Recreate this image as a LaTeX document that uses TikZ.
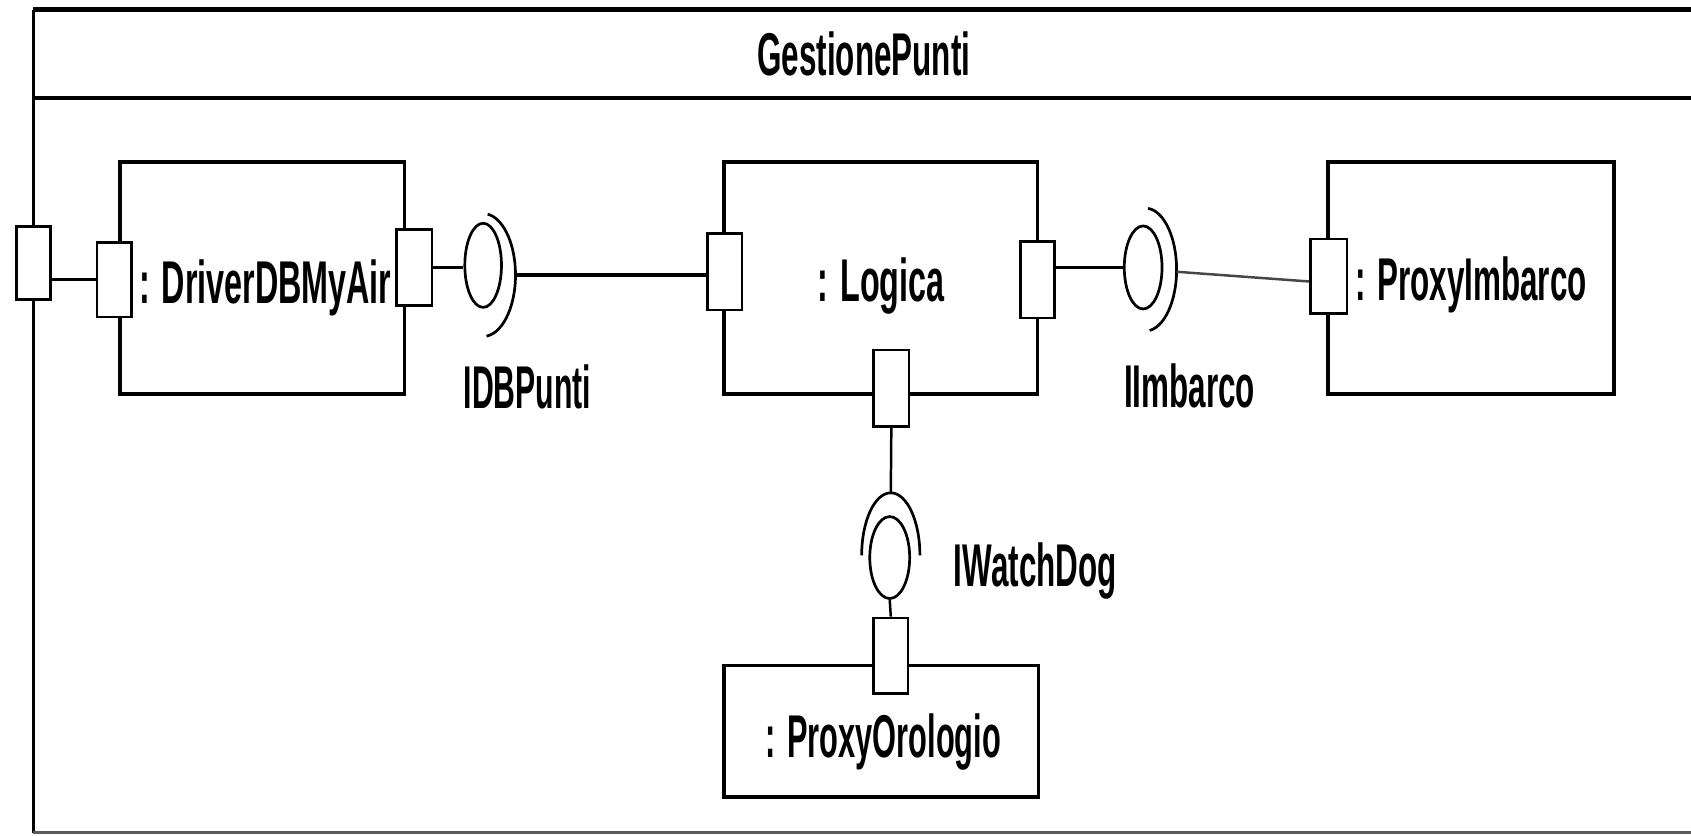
\documentclass[tikz,border=0pt]{standalone}
\usepackage{fontspec}
\setmainfont{Liberation Sans}
\usetikzlibrary{shapes.geometric}
\newcommand\nar[2][0.52]{\scalebox{#1}[1]{#2}}
\begin{document}
\begin{tikzpicture}[x=1pt,y=-1pt,
  comp/.style={draw, line width=3.5pt, inner sep=0pt},
  port/.style={draw, fill=white, line width=2.5pt, inner sep=0pt, minimum width=32pt, minimum height=70pt},
  ball/.style={draw, ellipse, line width=2.5pt, inner sep=0pt},
  socket/.style={line width=2.5pt},
  conn/.style={line width=3pt},
  thinconn/.style={line width=2.3pt},
  lbl/.style={inner sep=0pt, font=\fontsize{56}{60}\selectfont\bfseries}]
\clip (0,0) rectangle (1568,775);
\fill[white] (0,0) rectangle (1568,775);
% frame
\draw[line width=4.5pt] (1580,9) -- (31,9);
\draw[line width=4pt] (31,91) -- (1580,91);
\draw[line width=3pt] (31,9) -- (31,772);
\draw[line width=2pt, gray!70!black] (31,772) -- (1580,772);
\node[lbl, anchor=base] (title) at (801,70) {\nar{GestionePunti}};
% components
\node[comp, minimum width=264pt, minimum height=215pt] (driver) at (243,257.5) {};
\node[comp, minimum width=291pt, minimum height=215pt] (logica) at (816.5,257.5) {};
\node[comp, minimum width=265pt, minimum height=215pt] (pimb) at (1364,257.5) {};
\node[comp, minimum width=292pt, minimum height=122pt] (porol) at (817,678) {};
% ports
\node[port, minimum height=68pt] (outer) at (31,244) {};
\node[port, minimum height=69pt] (dl) at (106,259.5) {};
\node[port, minimum width=33pt] (dr) at (384,248) {};
\node[port, minimum height=71pt] (ll) at (672,252) {};
\node[port, minimum height=71pt] (lr) at (962,259.5) {};
\node[port, minimum width=33pt, minimum height=71pt] (lb) at (826.5,360) {};
\node[port, minimum width=34pt, minimum height=69pt] (pl) at (1232,256) {};
\node[port] (po) at (826,608) {};
% labels
\node[lbl, anchor=base] (tdriver) at (246,281) {\nar[0.535]{: DriverDBMyAir}};
\node[lbl, anchor=base] (tlogica) at (817,280) {\nar[0.535]{: Logica}};
\node[lbl, anchor=base] (tpimb) at (1364,279) {\nar{: ProxyImbarco}};
\node[lbl, anchor=base] (tporol) at (819,702) {\nar[0.51]{: ProxyOrologio}};
\node[lbl, anchor=base] (idb) at (489,379) {\nar[0.5]{IDBPunti}};
\node[lbl, anchor=base] (iimb) at (1103,378) {\nar{IImbarco}};
\node[lbl, anchor=base] (iwd) at (960,544) {\nar{IWatchDog}};
% interface balls
\node[ball, minimum width=34pt, minimum height=78pt] (ball1) at (448,246) {};
\node[ball, minimum width=35pt, minimum height=77pt] (ball2) at (1060,248) {};
\node[ball, minimum width=37pt, minimum height=76pt] (ball3) at (825,517) {};
% sockets
\coordinate (s1) at (448,255);
\coordinate (s1r) at (478,255);
\coordinate (s2) at (1062,250);
\coordinate (s2r) at (1091,252);
\coordinate (s3) at (826,515);
\coordinate (s3t) at (826,457);
\draw[socket] ([shift={(84:30 and 57)}]s1) arc[start angle=84, end angle=-82, x radius=30, y radius=57];
\draw[socket] ([shift={(82:29 and 57)}]s2) arc[start angle=82, end angle=-85, x radius=29, y radius=57];
\draw[socket] ([shift={(180:27 and 58)}]s3) arc[start angle=180, end angle=360, x radius=27, y radius=58];
% connectors
\draw[conn] (outer.east |- dl.west) -- (dl.west);
\draw[conn] (dr.east) -- (dr.east -| ball1.west);
\draw[conn] (s1r) -- (s1r -| ll.west);
\draw[conn] (lr.east |- ball2.west) -- (ball2.west);
\draw[thinconn, gray!55!black] (s2r) -- ([yshift=-5pt]pl.west);
\draw[thinconn] (lb.south) -- (s3t);
\draw[thinconn] (ball3.south) -- (po.north);
\end{tikzpicture}
\end{document}
